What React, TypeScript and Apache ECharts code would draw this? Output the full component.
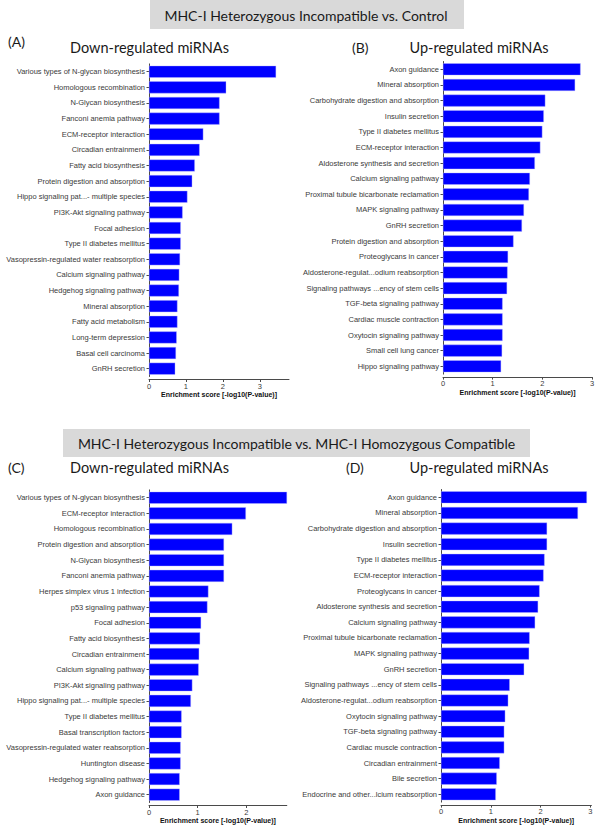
import React, { useEffect, useRef } from "react";
import * as echarts from "echarts";

const headerTop = "MHC-I Heterozygous Incompatible vs. Control";
const headerBottom = "MHC-I Heterozygous Incompatible vs. MHC-I Homozygous Compatible";
const panelLetters = ["(A)", "(B)", "(C)", "(D)"];
const panelTitles = ["Down-regulated miRNAs", "Up-regulated miRNAs", "Down-regulated miRNAs", "Up-regulated miRNAs"];
const xAxisTitle = "Enrichment score [-log10(P-value)]";

const catA = [
  "Various types of N-glycan biosynthesis", "Homologous recombination", "N-Glycan biosynthesis",
  "Fanconi anemia pathway", "ECM-receptor interaction", "Circadian entrainment", "Fatty acid biosynthesis",
  "Protein digestion and absorption", "Hippo signaling pat...- multiple species", "PI3K-Akt signaling pathway",
  "Focal adhesion", "Type II diabetes mellitus", "Vasopressin-regulated water reabsorption",
  "Calcium signaling pathway", "Hedgehog signaling pathway", "Mineral absorption", "Fatty acid metabolism",
  "Long-term depression", "Basal cell carcinoma", "GnRH secretion",
];
const valA = [3.44, 2.09, 1.91, 1.91, 1.47, 1.37, 1.24, 1.17, 1.04, 0.91, 0.86, 0.86, 0.84, 0.82, 0.81, 0.77, 0.77, 0.75, 0.73, 0.71];

const catB = [
  "Axon guidance", "Mineral absorption", "Carbohydrate digestion and absorption", "Insulin secretion",
  "Type II diabetes mellitus", "ECM-receptor interaction", "Aldosterone synthesis and secretion",
  "Calcium signaling pathway", "Proximal tubule bicarbonate reclamation", "MAPK signaling pathway",
  "GnRH secretion", "Protein digestion and absorption", "Proteoglycans in cancer",
  "Aldosterone-regulat...odium reabsorption", "Signaling pathways ...ency of stem cells",
  "TGF-beta signaling pathway", "Cardiac muscle contraction", "Oxytocin signaling pathway",
  "Small cell lung cancer", "Hippo signaling pathway",
];
const valB = [2.77, 2.66, 2.06, 2.03, 2.0, 1.96, 1.85, 1.75, 1.73, 1.63, 1.59, 1.42, 1.31, 1.3, 1.29, 1.2, 1.2, 1.2, 1.19, 1.17];

const catC = [
  "Various types of N-glycan biosynthesis", "ECM-receptor interaction", "Homologous recombination",
  "Protein digestion and absorption", "N-Glycan biosynthesis", "Fanconi anemia pathway",
  "Herpes simplex virus 1 infection", "p53 signaling pathway", "Focal adhesion", "Fatty acid biosynthesis",
  "Circadian entrainment", "Calcium signaling pathway", "PI3K-Akt signaling pathway",
  "Hippo signaling pat...- multiple species", "Type II diabetes mellitus", "Basal transcription factors",
  "Vasopressin-regulated water reabsorption", "Huntington disease", "Hedgehog signaling pathway", "Axon guidance",
];
const valC = [2.84, 1.99, 1.71, 1.54, 1.54, 1.54, 1.22, 1.2, 1.07, 1.05, 1.03, 1.02, 0.89, 0.86, 0.67, 0.67, 0.65, 0.65, 0.63, 0.63];

const catD = [
  "Axon guidance", "Mineral absorption", "Carbohydrate digestion and absorption", "Insulin secretion",
  "Type II diabetes mellitus", "ECM-receptor interaction", "Proteoglycans in cancer",
  "Aldosterone synthesis and secretion", "Calcium signaling pathway", "Proximal tubule bicarbonate reclamation",
  "MAPK signaling pathway", "GnRH secretion", "Signaling pathways ...ency of stem cells",
  "Aldosterone-regulat...odium reabsorption", "Oxytocin signaling pathway", "TGF-beta signaling pathway",
  "Cardiac muscle contraction", "Circadian entrainment", "Bile secretion", "Endocrine and other...lcium reabsorption",
];
const valD = [2.93, 2.75, 2.13, 2.13, 2.08, 2.06, 1.98, 1.95, 1.89, 1.78, 1.77, 1.67, 1.38, 1.35, 1.29, 1.27, 1.27, 1.18, 1.12, 1.1];

const ticksA = [0, 1, 2, 3];
const ticksB = [0, 1, 2, 3];
const ticksC = [0, 1, 2];
const ticksD = [0, 1, 2, 3];
const axisMax = [3.79, 3.0, 2.83, 3.02];

const panels = [
  { cats: catA, vals: valA, ticks: ticksA, grid: { left: 149, top: 63.9, width: 140, height: 312.6 } },
  { cats: catB, vals: valB, ticks: ticksB, grid: { left: 443, top: 61.5, width: 149, height: 312.6 } },
  { cats: catC, vals: valC, ticks: ticksC, grid: { left: 149, top: 489.9, width: 137.8, height: 312.6 } },
  { cats: catD, vals: valD, ticks: ticksD, grid: { left: 441, top: 489.5, width: 150.4, height: 312.6 } },
];

const TITLE_FONT = "Lato, 'Open Sans', sans-serif";
const AXIS_FONT = "'Liberation Sans', Arial, sans-serif";

export default function App() {
  const ref = useRef<HTMLDivElement>(null);
  useEffect(() => {
    if (!ref.current) return;
    const chart = echarts.init(ref.current, undefined, { renderer: "svg" });
    const axisColor = "#4a4a4a";
    const labelColor = "#3a3a3a";
    const option: any = {
      animation: false,
      backgroundColor: "#ffffff",
      grid: panels.map((p) => ({ ...p.grid })),
      xAxis: panels.map((p, i) => ({
        type: "value",
        gridIndex: i,
        min: 0,
        max: axisMax[i],
        offset: 3,
        splitLine: { show: false },
        axisLine: { show: true, lineStyle: { color: axisColor, width: 1 } },
        axisTick: { show: true, length: 2.5, lineStyle: { color: axisColor }, customValues: p.ticks },
        axisLabel: { color: labelColor, fontSize: 7.5, fontFamily: AXIS_FONT, margin: 2.5, customValues: p.ticks },
        name: xAxisTitle,
        nameLocation: "middle",
        nameGap: 11,
        nameTextStyle: { color: "#111", fontSize: 7, fontWeight: "bold", fontFamily: AXIS_FONT },
      })),
      yAxis: panels.map((p, i) => ({
        type: "category",
        gridIndex: i,
        inverse: true,
        data: p.cats,
        axisLine: { show: true, lineStyle: { color: axisColor, width: 1 } },
        axisTick: { show: true, length: 2.5, alignWithLabel: true, lineStyle: { color: axisColor } },
        axisLabel: { color: labelColor, fontSize: 7.5, fontFamily: AXIS_FONT, margin: 4, interval: 0 },
        splitLine: { show: false },
      })),
      series: panels.map((p, i) => ({
        type: "bar",
        xAxisIndex: i,
        yAxisIndex: i,
        data: p.vals,
        barWidth: 12,
        itemStyle: { color: "#0000ff", borderColor: "#b8b8ff", borderWidth: 0.4 },
      })),
      graphic: [
        { type: "rect", shape: { x: 150, y: 0, width: 314, height: 29 }, style: { fill: "#d9d9d9" } },
        { type: "text", x: 306, y: 15, style: { text: headerTop, fill: "#1a1a1a", font: `14px ${TITLE_FONT}`, textAlign: "center", textVerticalAlign: "middle" } },
        { type: "rect", shape: { x: 63, y: 429, width: 467, height: 28 }, style: { fill: "#d9d9d9" } },
        { type: "text", x: 296.5, y: 443, style: { text: headerBottom, fill: "#1a1a1a", font: `14px ${TITLE_FONT}`, textAlign: "center", textVerticalAlign: "middle" } },
        { type: "text", x: 8, y: 41, style: { text: panelLetters[0], fill: "#1a1a1a", font: `14px ${TITLE_FONT}`, textAlign: "left", textVerticalAlign: "middle" } },
        { type: "text", x: 149.5, y: 47, style: { text: panelTitles[0], fill: "#1a1a1a", font: `14.5px ${TITLE_FONT}`, textAlign: "center", textVerticalAlign: "middle" } },
        { type: "text", x: 352, y: 47, style: { text: panelLetters[1], fill: "#1a1a1a", font: `14px ${TITLE_FONT}`, textAlign: "left", textVerticalAlign: "middle" } },
        { type: "text", x: 479, y: 47, style: { text: panelTitles[1], fill: "#1a1a1a", font: `14.5px ${TITLE_FONT}`, textAlign: "center", textVerticalAlign: "middle" } },
        { type: "text", x: 8, y: 467, style: { text: panelLetters[2], fill: "#1a1a1a", font: `14px ${TITLE_FONT}`, textAlign: "left", textVerticalAlign: "middle" } },
        { type: "text", x: 149.5, y: 467, style: { text: panelTitles[2], fill: "#1a1a1a", font: `14.5px ${TITLE_FONT}`, textAlign: "center", textVerticalAlign: "middle" } },
        { type: "text", x: 346, y: 467, style: { text: panelLetters[3], fill: "#1a1a1a", font: `14px ${TITLE_FONT}`, textAlign: "left", textVerticalAlign: "middle" } },
        { type: "text", x: 479, y: 467, style: { text: panelTitles[3], fill: "#1a1a1a", font: `14.5px ${TITLE_FONT}`, textAlign: "center", textVerticalAlign: "middle" } },
      ],
    };
    chart.setOption(option);
    return () => chart.dispose();
  }, []);
  return (
    <div
      ref={ref}
      style={{ position: "fixed", left: 0, top: 0, width: 600, height: 827, background: "#fff" }}
    />
  );
}
